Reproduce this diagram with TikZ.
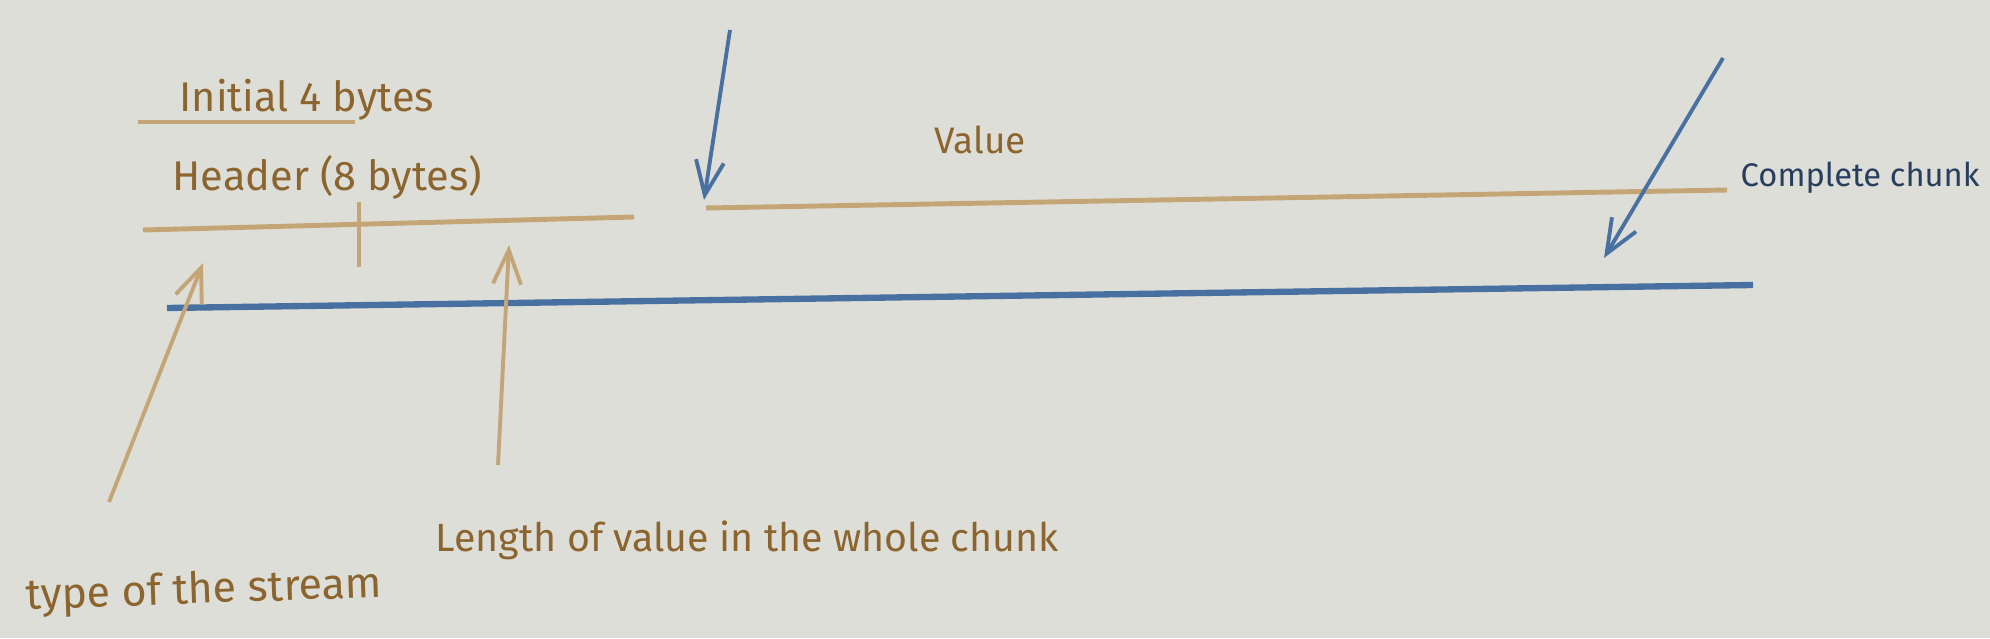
\documentclass[tikz,border=0pt]{standalone}
\usepackage{fontspec}
\setmainfont{Fira Sans}
\usetikzlibrary{arrows.meta}
\definecolor{paper}{RGB}{222,222,217}
\definecolor{tan}{RGB}{196,165,118}
\definecolor{ink}{RGB}{140,100,45}
\definecolor{pen}{RGB}{72,112,160}
\definecolor{darkpen}{RGB}{40,62,95}
\newcommand{\hand}[1]{\fontsize{#1}{#1}\selectfont}
\begin{document}
\begin{tikzpicture}[x=1cm,y=1cm,
    lbl/.style = {color=ink, inner sep=0pt, font=\hand{11.8}},
    tanline/.style = {color=tan, line width=1.4pt},
    blueline/.style = {color=pen, line width=1.8pt},
    arr/.style = {line width=1.1pt, -{Straight Barb[length=3.4mm,width=2.8mm]}}]
    \fill[paper] (0,0) rectangle (19.9,6.38);
    \useasboundingbox (0,0) rectangle (19.9,6.38);
    % labels
    \node[lbl, anchor=west] (init) at (1.79,5.38) {Initial 4 bytes};
    \node[lbl, anchor=west] (head) at (1.72,4.61) {Header (8 bytes)};
    \node[lbl, font=\hand{10.5}] (val) at (9.80,4.98) {Value};
    \node[lbl, anchor=west, color=darkpen, font=\hand{9.3}] (chunk) at (17.40,4.60) {Complete chunk};
    \node[lbl, anchor=west, font=\hand{11.2}] (len) at (4.35,0.98) {Length of value in the whole chunk};
    \node[lbl, anchor=west, font=\hand{12.2}, rotate=2] (type) at (0.25,0.40) {type of the stream};
    % end points
    \coordinate (u1) at (1.38,5.16);
    \coordinate (u2) at (3.55,5.16);
    \coordinate (h1) at (1.43,4.08);
    \coordinate (h2) at (6.34,4.21);
    \coordinate (t1) at (3.59,4.36);
    \coordinate (t2) at (3.59,3.71);
    \coordinate (v1) at (7.06,4.30);
    \coordinate (v2) at (17.27,4.48);
    \coordinate (b1) at (1.67,3.30);
    \coordinate (b2) at (17.53,3.53);
    \coordinate (typefoot) at (1.09,1.36);
    \coordinate (typetip) at (2.03,3.75);
    \coordinate (lenfoot) at (4.98,1.73);
    \coordinate (lentip) at (5.09,3.93);
    \coordinate (valtop) at (7.30,6.08);
    \coordinate (valtip) at (7.04,4.38);
    \coordinate (chunktop) at (17.23,5.80);
    \coordinate (chunktip) at (16.04,3.80);
    % lines
    \draw[tanline] (u1) -- (u2);
    \draw[tanline] (h1) -- (h2);
    \draw[tanline, line width=1.1pt] (t1) -- (t2);
    \draw[tanline] (v1) -- (v2);
    \draw[blueline] (b1) -- (b2);
    % arrows
    \draw[arr, color=tan] (typefoot) -- (typetip);
    \draw[arr, color=tan] (lenfoot) -- (lentip);
    \draw[arr, color=pen] (valtop) -- (valtip);
    \draw[arr, color=pen] (chunktop) -- (chunktip);
\end{tikzpicture}
\end{document}
